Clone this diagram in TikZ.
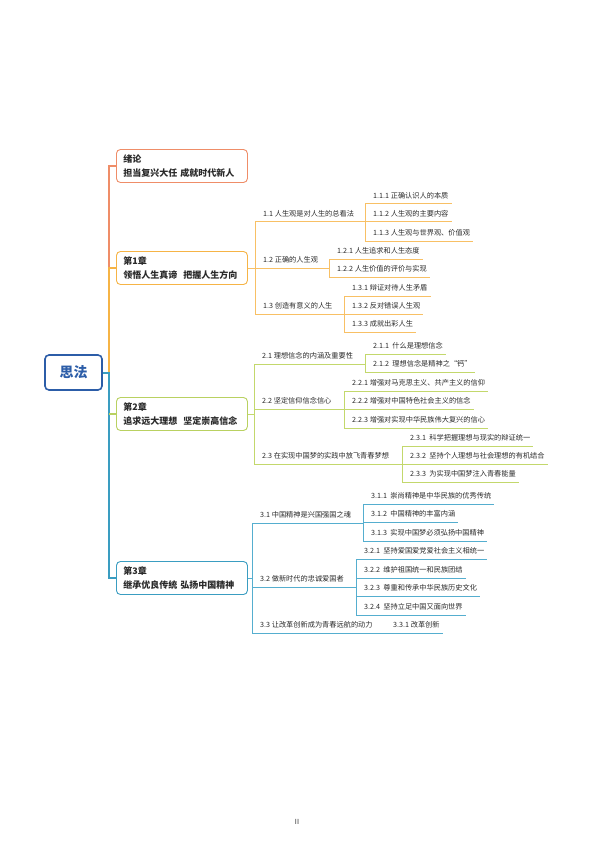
\documentclass[tikz,border=0pt]{standalone}
\usepackage{fontspec}
\setmainfont{Noto Sans CJK SC}
\definecolor{txt}{HTML}{2A2A2A}
\definecolor{cblue}{HTML}{2C5DA8}
\definecolor{czero}{HTML}{EF8D68}
\definecolor{cone}{HTML}{F6B446}
\definecolor{conel}{HTML}{F8C065}
\definecolor{ctwo}{HTML}{B9D161}
\definecolor{ctwol}{HTML}{C3D86C}
\definecolor{cthree}{HTML}{3A9DC1}
\definecolor{cthreel}{HTML}{55AECF}
\begin{document}
\begin{tikzpicture}[x=1pt,y=-1pt,
  rootbox/.style={draw=cblue, line width=1.6pt, rounded corners=4pt, fill=white,
    minimum width=57pt, minimum height=35pt, inner sep=0pt, text=cblue,
    font=\fontsize{14}{16}\selectfont\bfseries},
  chap/.style={draw, rounded corners=4pt, line width=0.9pt, fill=white, anchor=west,
    text width=117pt, inner xsep=7pt, inner ysep=2pt, minimum height=33pt,
    align=left, text=txt, font=\fontsize{9}{13.5}\selectfont\bfseries},
  sub/.style={anchor=south west, inner xsep=0pt, inner ysep=5pt, text depth=0pt,
    text=txt, font=\fontsize{7.2}{8}\selectfont,
    execute at begin node={\hspace*{8pt}}, execute at end node={\hspace*{3pt}}},
  trunk/.style={line width=2pt},
  br/.style={line width=1pt}
]
\useasboundingbox (0,0) rectangle (596,842);

% root and chapters
\node[rootbox] (root) at (73.5,372.5) {思法};
\coordinate (t) at ([xshift=6pt]root.east);
\node[chap, draw=czero] (ch0) at (116,166) {绪论\\担当复兴大任 成就时代新人};
\node[chap, draw=cone] (ch1) at (116,268) {第1章\\领悟人生真谛\ \ 把握人生方向};
\node[chap, draw=ctwo] (ch2) at (116,414) {第2章\\追求远大理想\ \ 坚定崇高信念};
\node[chap, draw=cthree] (ch3) at (116,578) {第3章\\继承优良传统 弘扬中国精神};

\draw[trunk, czero] (ch0.west) -| (t |- ch1.west);
\draw[trunk, cone] (ch1.west) -| (t);
\draw[trunk, cthree] (root.east) -- (t) |- (ch3.west);
\draw[trunk, ctwo] (ch2.west) -- (t |- ch2.west);

% chapter 1
\node[sub] (s11) at (255,222) {1.1 人生观是对人生的总看法};
\node[sub] (s12) at (255,268) {1.2 正确的人生观};
\node[sub] (s13) at (255,314) {1.3 创造有意义的人生};
\node[sub] (c111) at (365,204) {1.1.1 正确认识人的本质};
\node[sub] (c112) at (365,222) {1.1.2 人生观的主要内容};
\node[sub] (c113) at (365,241) {1.1.3 人生观与世界观、价值观};
\node[sub] (c121) at (329,259) {1.2.1 人生追求和人生态度};
\node[sub] (c122) at (329,277) {1.2.2 人生价值的评价与实现};
\node[sub] (c131) at (344,296) {1.3.1 辩证对待人生矛盾};
\node[sub] (c132) at (344,314) {1.3.2 反对错误人生观};
\node[sub] (c133) at (344,332) {1.3.3 成就出彩人生};
\begin{scope}[br, conel]
\draw (ch1.east) -- (ch1.east -| s11.south west);
\draw (s11.south west) -- (s13.south west);
\draw (s11.south west) -- (c111.south west |- s11.south);
\draw (s12.south west) -- (c121.south west |- s12.south);
\draw (s13.south west) -- (c131.south west |- s13.south);
\draw (c111.south west) -- (c113.south west);
\draw (c121.south west) -- (c122.south west);
\draw (c131.south west) -- (c133.south west);
\foreach \n in {c111,c112,c113,c121,c122,c131,c132,c133}
  \draw (\n.south west) -- (\n.south east);
\end{scope}

% chapter 2
\node[sub] (s21) at (254,364) {2.1 理想信念的内涵及重要性};
\node[sub] (s22) at (254,409) {2.2 坚定信仰信念信心};
\node[sub] (s23) at (254,464) {2.3 在实现中国梦的实践中放飞青春梦想};
\node[sub] (c211) at (365,354) {2.1.1\ \ 什么是理想信念};
\node[sub] (c212) at (365,372) {2.1.2\ \ 理想信念是精神之“钙”};
\node[sub] (c221) at (344,391) {2.2.1 增强对马克思主义、共产主义的信仰};
\node[sub] (c222) at (344,409) {2.2.2 增强对中国特色社会主义的信念};
\node[sub] (c223) at (344,428) {2.2.3 增强对实现中华民族伟大复兴的信心};
\node[sub] (c231) at (402,446) {2.3.1\ \ 科学把握理想与现实的辩证统一};
\node[sub] (c232) at (402,464) {2.3.2\ \ 坚持个人理想与社会理想的有机结合};
\node[sub] (c233) at (402,482) {2.3.3\ \ 为实现中国梦注入青春能量};
\begin{scope}[br, ctwol]
\draw (ch2.east) -- (ch2.east -| s21.south west);
\draw (s21.south west) -- (s23.south west);
\draw (s21.south west) -- (c211.south west |- s21.south);
\draw (s22.south west) -- (c221.south west |- s22.south);
\draw (s23.south west) -- (c231.south west |- s23.south);
\draw (c211.south west) -- (c212.south west);
\draw (c221.south west) -- (c223.south west);
\draw (c231.south west) -- (c233.south west);
\foreach \n in {c211,c212,c221,c222,c223,c231,c232,c233}
  \draw (\n.south west) -- (\n.south east);
\end{scope}

% chapter 3
\node[sub] (s31) at (252,523) {3.1 中国精神是兴国强国之魂};
\node[sub] (s32) at (252,587) {3.2 做新时代的忠诚爱国者};
\node[sub] (s33) at (252,633) {3.3 让改革创新成为青春远航的动力};
\node[sub] (c311) at (363,504) {3.1.1\ \ 崇尚精神是中华民族的优秀传统};
\node[sub] (c312) at (363,522) {3.1.2\ \ 中国精神的丰富内涵};
\node[sub] (c313) at (363,541) {3.1.3\ \ 实现中国梦必须弘扬中国精神};
\node[sub] (c321) at (356,559) {3.2.1\ \ 坚持爱国爱党爱社会主义相统一};
\node[sub] (c322) at (356,578) {3.2.2\ \ 维护祖国统一和民族团结};
\node[sub] (c323) at (356,596) {3.2.3\ \ 尊重和传承中华民族历史文化};
\node[sub] (c324) at (356,615) {3.2.4\ \ 坚持立足中国又面向世界};
\node[sub] (c331) at (385,633) {3.3.1 改革创新};
\begin{scope}[br, cthreel]
\draw (ch3.east) -- (ch3.east -| s31.south west);
\draw (s31.south west) -- (s33.south west);
\draw (s31.south west) -- (c311.south west |- s31.south);
\draw (s32.south west) -- (c321.south west |- s32.south);
\draw (s33.south west) -- (c331.south west);
\draw (c311.south west) -- (c313.south west);
\draw (c321.south west) -- (c324.south west);
\foreach \n in {c311,c312,c313,c321,c322,c323,c324,c331}
  \draw (\n.south west) -- (\n.south east);
\end{scope}

\node[text=txt, font=\fontsize{7}{8}\selectfont] (pg) at (297,822) {II};
\end{tikzpicture}
\end{document}
